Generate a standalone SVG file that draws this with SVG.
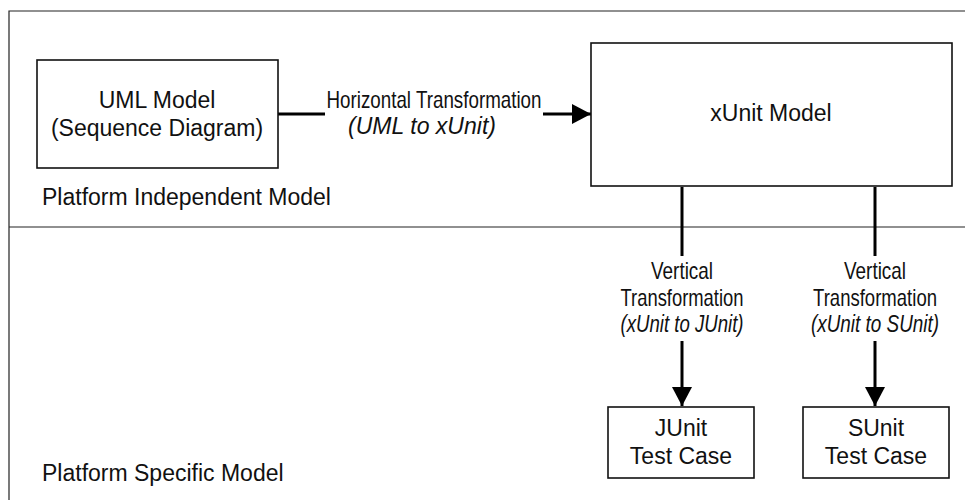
<svg xmlns="http://www.w3.org/2000/svg" width="965" height="500" viewBox="0 0 965 500">
  <style>
    .frame { stroke: #222; stroke-width: 1.2; fill: none; }
    .box { fill: #fff; stroke: #111; stroke-width: 1.6; }
    .txt { font-family: "Liberation Sans", Arial, sans-serif; font-size: 23px; fill: #111; }
    .lbl { font-family: "Liberation Sans", Arial, sans-serif; font-size: 24px; fill: #111; text-anchor: middle; }
    .it { font-style: italic; }
    .mid { text-anchor: middle; }
    .conn { stroke: #000; stroke-width: 3; fill: none; }
  </style>
  <defs>
    <marker id="head" viewBox="0 0 19 20" refX="19" refY="10" markerWidth="19" markerHeight="20" markerUnits="userSpaceOnUse" orient="auto">
      <path d="M0,0 L19,10 L0,20 z" fill="#000"/>
    </marker>
  </defs>
  <rect width="965" height="500" fill="#fff"/>

  <!-- model-level frame and divider -->
  <g id="frame">
    <path class="frame" d="M9,500 V11 H965"/>
    <line class="frame" x1="9" y1="227" x2="965" y2="227"/>
    <text class="txt" x="42" y="205">Platform Independent Model</text>
    <text class="txt" x="42" y="481">Platform Specific Model</text>
  </g>

  <!-- transformations -->
  <g id="connectors">
    <line class="conn" x1="278" y1="114" x2="325" y2="114"/>
    <line class="conn" x1="543" y1="114" x2="591" y2="114" marker-end="url(#head)"/>
    <text class="lbl" x="434" y="108" textLength="215" lengthAdjust="spacingAndGlyphs">Horizontal Transformation</text>
    <text class="lbl it" x="422" y="134" textLength="148" lengthAdjust="spacingAndGlyphs">(UML to xUnit)</text>

    <line class="conn" x1="682" y1="187" x2="682" y2="256"/>
    <line class="conn" x1="682" y1="341" x2="682" y2="406" marker-end="url(#head)"/>
    <text class="lbl" x="682" y="279" textLength="62" lengthAdjust="spacingAndGlyphs">Vertical</text>
    <text class="lbl" x="682" y="306" textLength="123" lengthAdjust="spacingAndGlyphs">Transformation</text>
    <text class="lbl it" x="682" y="332" textLength="123" lengthAdjust="spacingAndGlyphs">(xUnit to JUnit)</text>

    <line class="conn" x1="875" y1="187" x2="875" y2="256"/>
    <line class="conn" x1="875" y1="341" x2="875" y2="406" marker-end="url(#head)"/>
    <text class="lbl" x="875" y="279" textLength="62" lengthAdjust="spacingAndGlyphs">Vertical</text>
    <text class="lbl" x="875" y="306" textLength="124" lengthAdjust="spacingAndGlyphs">Transformation</text>
    <text class="lbl it" x="875" y="332" textLength="128" lengthAdjust="spacingAndGlyphs">(xUnit to SUnit)</text>
  </g>

  <g id="uml-model">
    <rect class="box" x="37" y="60" width="241" height="108"/>
    <text class="txt mid" x="157" y="108">UML Model</text>
    <text class="txt mid" x="157" y="136">(Sequence Diagram)</text>
  </g>

  <g id="xunit-model">
    <rect class="box" x="591" y="43" width="361" height="143" stroke="#333"/>
    <text class="txt mid" x="771" y="121">xUnit Model</text>
  </g>

  <g id="junit-test-case">
    <rect class="box" x="608" y="407" width="146" height="71"/>
    <text class="txt mid" x="681" y="436">JUnit</text>
    <text class="txt mid" x="681" y="464">Test Case</text>
  </g>

  <g id="sunit-test-case">
    <rect class="box" x="803" y="407" width="146" height="71"/>
    <text class="txt mid" x="876" y="436">SUnit</text>
    <text class="txt mid" x="876" y="464">Test Case</text>
  </g>
</svg>
